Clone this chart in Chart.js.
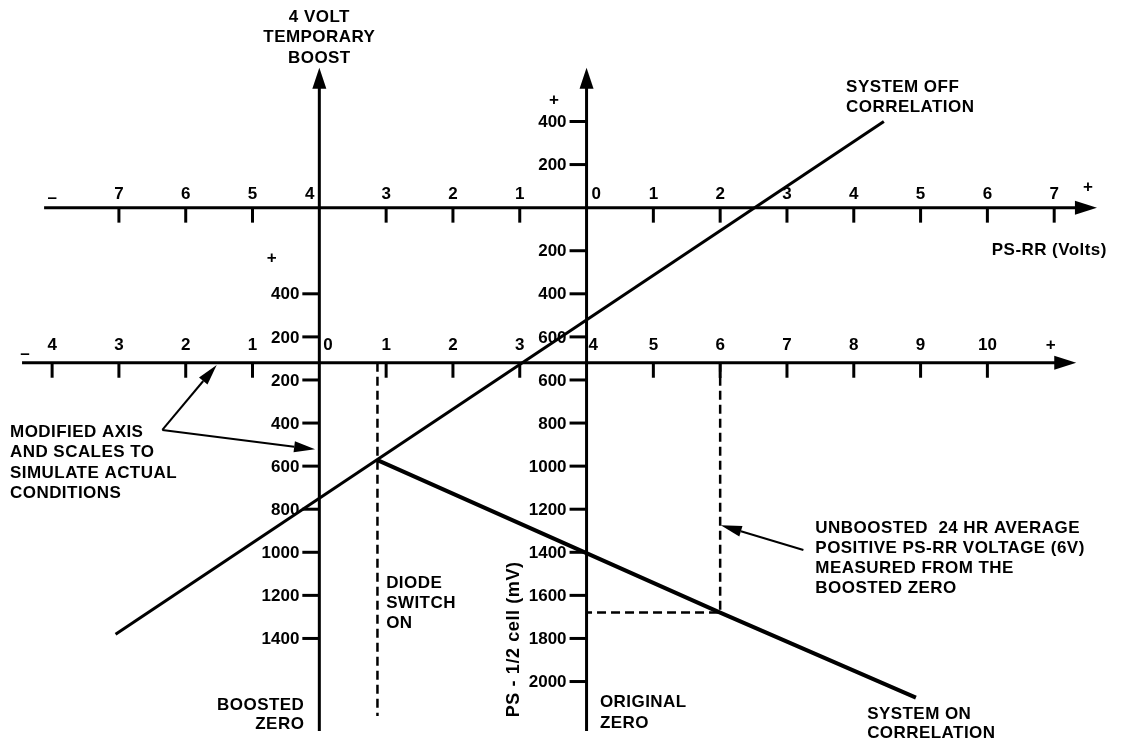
<!DOCTYPE html>
<html>
<head>
<meta charset="utf-8">
<title>PS-RR correlation with a 4 volt temporary boost</title>
<script src="https://cdn.jsdelivr.net/npm/chart.js@4/dist/chart.umd.min.js"></script>
<style>
  html, body { margin: 0; padding: 0; background: #fff; }
  canvas { display: block; }
</style>
</head>
<body>
<canvas id="c" width="1121" height="744"></canvas>
<script>
// ---- Data -------------------------------------------------------------
// Horizontal unit: PS-RR volts from the original zero. The boosted scale
// reads 4 V higher (boosted = original + BOOST_V).
const BOOST_V = 4;
// Vertical unit: PS - 1/2 cell in mV from the original zero axis.
const BOOSTED_AXIS_MV = -720;

// Upper axis (original PS-RR scale)
const origTickVolts  = [-7, -6, -5, -4, -3, -2, -1, 0, 1, 2, 3, 4, 5, 6, 7];
const origTickLabels = ['7', '6', '5', '4', '3', '2', '1', '0', '1', '2', '3', '4', '5', '6', '7'];

// Lower axis (modified / boosted PS-RR scale), in boosted volts
const boostTickVolts  = [-4, -3, -2, -1, 0, 1, 2, 3, 4, 5, 6, 7, 8, 9, 10];
const boostTickLabels = ['4', '3', '2', '1', '0', '1', '2', '3', '4', '5', '6', '7', '8', '9', '10'];

// PS - 1/2 cell scale on the original zero axis
const origMvTicks  = [400, 200, -200, -400, -600, -800, -1000, -1200, -1400, -1600, -1800, -2000, -2200];
const origMvLabels = ['400', '200', '200', '400', '600', '600', '800', '1000', '1200', '1400', '1600', '1800', '2000'];

// PS - 1/2 cell scale on the boosted zero axis
const boostMvTicks  = [-400, -600, -800, -1000, -1200, -1400, -1600, -1800, -2000];
const boostMvLabels = ['400', '200', '200', '400', '600', '800', '1000', '1200', '1400'];

// Diode switch-on point and the unboosted 24 hr average (6 V boosted)
const diodeSwitchBoostV = 0.87;
const diodeSwitchMv = -1172;
const avgBoostV = 6;
const avgMv = -1880;

// System off correlation (original volts, mV)
const offVolts = [-7.05, 4.45];
const offMv    = [-1980, 400];

// System on correlation: starts at the diode switch, passes the 6 V average
const onVolts = [diodeSwitchBoostV - BOOST_V, avgBoostV - BOOST_V, 4.93];
const onMv    = [diodeSwitchMv, avgMv, -2275];

// ---- Layout of the drawing (data units) -------------------------------
const frame = {
  upperFrom: -8.12, upperTo: 7.64,      // original volts
  lowerFrom: -4.45, lowerTo: 11.33,     // boosted volts
  vTop: 650, vBottom: -2430,            // mV
  dashBottom: -2360                     // end of the diode switch guide
};

const notes = [
  { x: -4,    y: 885,   align: 'center', lh: 20.5, lines: ['4 VOLT', 'TEMPORARY', 'BOOST'] },
  { x: 3.885, y: 560,   align: 'left',   lh: 20,   lines: ['SYSTEM OFF', 'CORRELATION'] },
  { x: 6.066, y: -200,  align: 'left',   lh: 20,   lines: ['PS-RR (Volts)'] },
  { x: -8.63, y: -1043, align: 'left',   lh: 20.3, lines: ['MODIFIED AXIS', 'AND SCALES TO', 'SIMULATE ACTUAL', 'CONDITIONS'] },
  { x: -3.0,  y: -1746, align: 'left',   lh: 20,   lines: ['DIODE', 'SWITCH', 'ON'] },
  { x: -4.225,y: -2310, align: 'right',  lh: 19.4, lines: ['BOOSTED', 'ZERO'] },
  { x: 0.2,   y: -2298, align: 'left',   lh: 20.6, lines: ['ORIGINAL', 'ZERO'] },
  { x: 3.425, y: -1488, align: 'left',   lh: 20.1, lines: ['UNBOOSTED  24 HR AVERAGE', 'POSITIVE PS-RR VOLTAGE (6V)', 'MEASURED FROM THE', 'BOOSTED ZERO'] },
  { x: 4.2,   y: -2352, align: 'left',   lh: 19.2, lines: ['SYSTEM ON', 'CORRELATION'] }
];

const pointers = [
  { from: [-6.35, -1032], to: [-5.536, -730] },
  { from: [-6.35, -1032], to: [-4.064, -1122] },
  { from: [3.246, -1589], to: [2.009, -1474] }
];

const signs = [
  { x: -0.487, y: 500,  text: '+' },
  { x: -4.713, y: -234, text: '+' },
  { x: -8.0,   y: 45,   text: '\u2013' },
  { x: 7.507,  y: 96,   text: '+' },
  { x: -8.406, y: -679, text: '\u2013' },
  { x: 6.949,  y: -641, text: '+' }
];

const FONT = 'bold 17px "Liberation Sans", Arial, sans-serif';
const TITLE_FONT = 'bold 18px "Liberation Sans", Arial, sans-serif';
const INK = '#000';

const pts = (xs, ys) => xs.map((x, i) => ({ x, y: ys[i] }));

// ---- Axes, scales and notes -------------------------------------------
const diagram = {
  id: 'diagram',
  beforeDatasetsDraw(chart) {
    const ctx = chart.ctx;
    const X = v => chart.scales.x.getPixelForValue(v);
    const Y = mv => chart.scales.y.getPixelForValue(mv);
    ctx.save();
    ctx.strokeStyle = INK;
    ctx.fillStyle = INK;
    ctx.font = FONT;
    ctx.lineCap = 'butt';

    const hArrow = (x0, x1, y) => {
      ctx.lineWidth = 3;
      ctx.beginPath(); ctx.moveTo(x0, y); ctx.lineTo(x1 - 20, y); ctx.stroke();
      ctx.beginPath(); ctx.moveTo(x1, y); ctx.lineTo(x1 - 22, y - 7); ctx.lineTo(x1 - 22, y + 7); ctx.closePath(); ctx.fill();
    };
    const vArrow = (x, y0, y1) => {
      ctx.lineWidth = 3;
      ctx.beginPath(); ctx.moveTo(x, y1); ctx.lineTo(x, y0 + 20); ctx.stroke();
      ctx.beginPath(); ctx.moveTo(x, y0); ctx.lineTo(x - 7, y0 + 21); ctx.lineTo(x + 7, y0 + 21); ctx.closePath(); ctx.fill();
    };

    // Upper (original) PS-RR axis
    const yU = Y(0);
    hArrow(X(frame.upperFrom), X(frame.upperTo), yU);
    ctx.textBaseline = 'middle';
    origTickVolts.forEach((v, i) => {
      const x = X(v);
      if (v !== -BOOST_V && v !== 0) {
        ctx.lineWidth = 3;
        ctx.beginPath(); ctx.moveTo(x, yU); ctx.lineTo(x, yU + 15); ctx.stroke();
        ctx.textAlign = 'center';
        ctx.fillText(origTickLabels[i], x, yU - 13);
      } else if (v === 0) {
        ctx.textAlign = 'left';
        ctx.fillText(origTickLabels[i], x + 5, yU - 13);
      } else {
        ctx.textAlign = 'right';
        ctx.fillText(origTickLabels[i], x - 5, yU - 13);
      }
    });

    // Lower (boosted) PS-RR axis
    const yL = Y(BOOSTED_AXIS_MV);
    hArrow(X(frame.lowerFrom - BOOST_V), X(frame.lowerTo - BOOST_V), yL);
    boostTickVolts.forEach((b, i) => {
      const x = X(b - BOOST_V);
      if (b !== 0 && b !== BOOST_V) {
        ctx.lineWidth = 3;
        ctx.beginPath(); ctx.moveTo(x, yL); ctx.lineTo(x, yL + 15); ctx.stroke();
        ctx.textAlign = 'center';
        ctx.fillText(boostTickLabels[i], x, yL - 17);
      } else {
        ctx.textAlign = 'left';
        ctx.fillText(boostTickLabels[i], x + (b === 0 ? 4 : 2), yL - 17);
      }
    });

    // Vertical PS - 1/2 cell axes: boosted zero and original zero
    const vAxis = (v, ticks, labels) => {
      const x = X(v);
      vArrow(x, Y(frame.vTop), Y(frame.vBottom));
      ctx.textAlign = 'right';
      ticks.forEach((mv, i) => {
        const y = Y(mv);
        ctx.lineWidth = 3;
        ctx.beginPath(); ctx.moveTo(x - 17, y); ctx.lineTo(x, y); ctx.stroke();
        ctx.fillText(labels[i], x - 20, y + 1);
      });
    };
    vAxis(-BOOST_V, boostMvTicks, boostMvLabels);
    vAxis(0, origMvTicks, origMvLabels);

    // Direction signs
    ctx.textAlign = 'center';
    signs.forEach(s => ctx.fillText(s.text, X(s.x), Y(s.y)));
    ctx.restore();
  },
  afterDatasetsDraw(chart) {
    const ctx = chart.ctx;
    const X = v => chart.scales.x.getPixelForValue(v);
    const Y = mv => chart.scales.y.getPixelForValue(mv);
    ctx.save();
    ctx.strokeStyle = INK;
    ctx.fillStyle = INK;
    ctx.font = FONT;
    ctx.textBaseline = 'middle';
    ctx.letterSpacing = '0.45px';

    notes.forEach(n => {
      ctx.textAlign = n.align;
      n.lines.forEach((t, k) => ctx.fillText(t, X(n.x), Y(n.y) + k * n.lh));
    });

    // Vertical axis title
    ctx.save();
    ctx.font = TITLE_FONT;
    ctx.letterSpacing = '0.6px';
    ctx.translate(X(-1.085), Y(-2004));
    ctx.rotate(-Math.PI / 2);
    ctx.textAlign = 'center';
    ctx.fillText('PS - 1/2 cell (mV)', 0, 0);
    ctx.restore();

    // Pointer arrows
    pointers.forEach(p => {
      const x0 = X(p.from[0]), y0 = Y(p.from[1]);
      const x1 = X(p.to[0]),   y1 = Y(p.to[1]);
      const a = Math.atan2(y1 - y0, x1 - x0);
      const L = 21, W = 5.5;
      const bx = x1 - L * Math.cos(a), by = y1 - L * Math.sin(a);
      ctx.lineWidth = 2;
      ctx.beginPath(); ctx.moveTo(x0, y0); ctx.lineTo(bx, by); ctx.stroke();
      ctx.beginPath();
      ctx.moveTo(x1, y1);
      ctx.lineTo(bx + W * Math.sin(a), by - W * Math.cos(a));
      ctx.lineTo(bx - W * Math.sin(a), by + W * Math.cos(a));
      ctx.closePath(); ctx.fill();
    });
    ctx.restore();
  }
};

const lineStyle = { showLine: true, pointRadius: 0, borderColor: INK, fill: false, tension: 0 };

new Chart(document.getElementById('c'), {
  type: 'scatter',
  data: {
    datasets: [
      Object.assign({ label: 'System off correlation', data: pts(offVolts, offMv), borderWidth: 3 }, lineStyle),
      Object.assign({ label: 'System on correlation', data: pts(onVolts, onMv), borderWidth: 4 }, lineStyle),
      Object.assign({ label: 'Diode switch on',
        data: [{ x: diodeSwitchBoostV - BOOST_V, y: BOOSTED_AXIS_MV }, { x: diodeSwitchBoostV - BOOST_V, y: frame.dashBottom }],
        borderWidth: 2.5, borderDash: [9, 5] }, lineStyle),
      Object.assign({ label: 'Unboosted 24 hr average',
        data: [{ x: avgBoostV - BOOST_V, y: BOOSTED_AXIS_MV }, { x: avgBoostV - BOOST_V, y: avgMv }, { x: 0, y: avgMv }],
        borderWidth: 2.5, borderDash: [9, 5] }, lineStyle)
    ]
  },
  options: {
    responsive: false,
    animation: false,
    events: [],
    layout: { padding: 0 },
    scales: {
      x: { type: 'linear', min: -8.78, max: 8.0, display: false },
      y: { type: 'linear', min: -2490, max: 964, display: false }
    },
    plugins: { legend: { display: false }, tooltip: { enabled: false } }
  },
  plugins: [diagram]
});
</script>
</body>
</html>
